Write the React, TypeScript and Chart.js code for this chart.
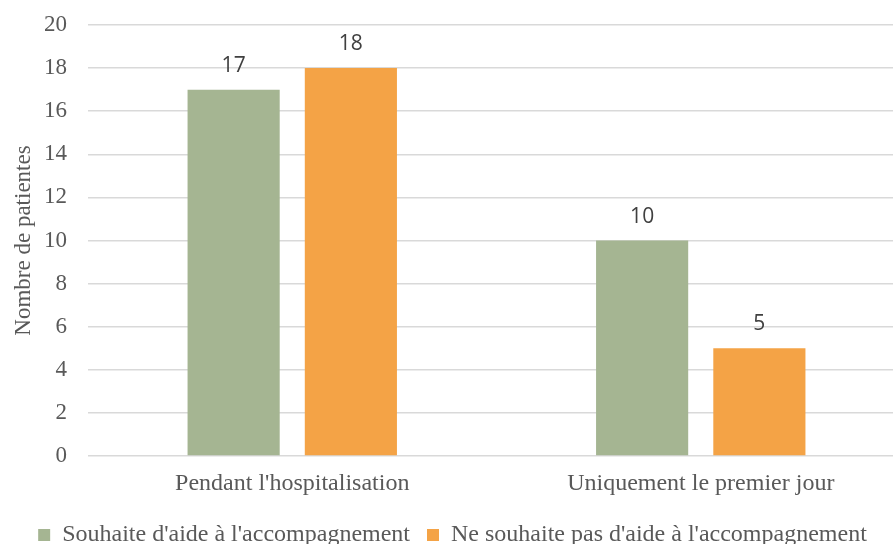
import React, { useEffect, useRef } from "react";
import { Chart, registerables } from "chart.js";

Chart.register(...registerables);

const categories = ["Pendant l'hospitalisation", "Uniquement le premier jour"];
const seriesNames = [
  "Souhaite d'aide à l'accompagnement",
  "Ne souhaite pas d'aide à l'accompagnement",
];
const souhaiteValues = [17, 10];
const neSouhaitePasValues = [18, 5];
const yTicks = [0, 2, 4, 6, 8, 10, 12, 14, 16, 18, 20];
const yTitle = "Nombre de patientes";

const GREEN = "#A5B592";
const ORANGE = "#F4A346";
const TEXT = "#595959";
const SERIF = "'Liberation Serif', 'Times New Roman', serif";

const valueLabels = {
  id: "valueLabels",
  afterDatasetsDraw(chart: any) {
    const ctx = chart.ctx;
    ctx.save();
    ctx.font = "21px 'Open Sans', sans-serif";
    ctx.fillStyle = "#404040";
    ctx.textAlign = "center";
    ctx.textBaseline = "alphabetic";
    chart.data.datasets.forEach((ds: any, i: number) => {
      const meta = chart.getDatasetMeta(i);
      meta.data.forEach((bar: any, j: number) => {
        ctx.fillText(String(ds.data[j]), bar.x, bar.y - 18);
      });
    });
    ctx.restore();
  },
};

export default function App() {
  const ref = useRef<HTMLCanvasElement>(null);
  useEffect(() => {
    document.body.style.margin = "0";
    document.body.style.overflow = "hidden";
    const chart = new Chart(ref.current!, {
      type: "bar",
      data: {
        labels: categories,
        datasets: [
          {
            label: seriesNames[0],
            data: souhaiteValues,
            backgroundColor: GREEN,
          },
          {
            label: seriesNames[1],
            data: neSouhaitePasValues,
            backgroundColor: ORANGE,
          },
        ],
      },
      options: {
        responsive: false,
        animation: false,
        categoryPercentage: 0.574,
        barPercentage: 0.786,
        layout: { padding: { top: 25, left: 0, right: 0, bottom: 0 } },
        plugins: {
          tooltip: { enabled: false },
          legend: {
            position: "bottom",
            labels: {
              boxWidth: 12,
              boxHeight: 12,
              padding: 17,
              color: TEXT,
              font: { family: SERIF, size: 24 },
            },
          },
        },
        scales: {
          x: {
            grid: { display: false },
            border: { display: false },
            ticks: {
              color: TEXT,
              font: { family: SERIF, size: 24 },
              padding: 5,
            },
            afterFit(scale: any) {
              scale.height = 50;
            },
          },
          y: {
            min: 0,
            max: 20,
            afterBuildTicks(scale: any) {
              scale.ticks = yTicks.map((v) => ({ value: v }));
            },
            grid: { color: "#D9D9D9", lineWidth: 1.5, drawTicks: false },
            border: { display: false },
            ticks: {
              color: TEXT,
              font: { family: SERIF, size: 23 },
              padding: 21,
            },
            title: {
              display: true,
              text: yTitle,
              color: TEXT,
              font: { family: SERIF, size: 23 },
              padding: { top: 10, bottom: 0 },
            },
            afterFit(scale: any) {
              scale.width = 88;
              scale.paddingTop = 0;
              scale.paddingBottom = 0;
            },
          },
        },
      },
      plugins: [valueLabels],
    });
    return () => chart.destroy();
  }, []);
  return (
    <div style={{ position: "fixed", left: 0, top: 0 }}>
      <canvas ref={ref} width={905} height={557} />
    </div>
  );
}
